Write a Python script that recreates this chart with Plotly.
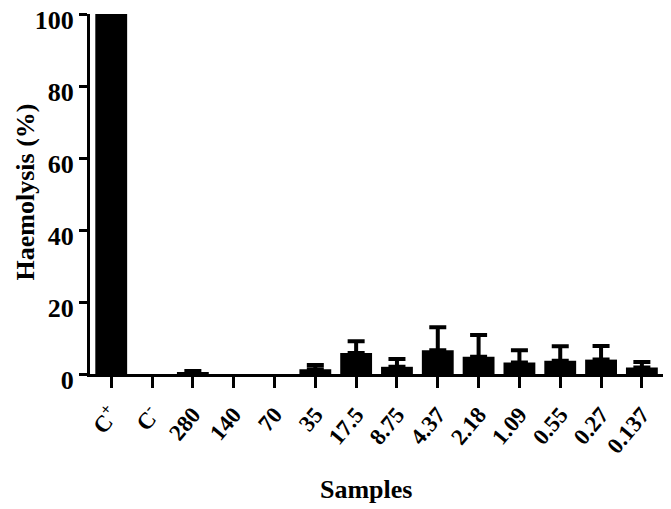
import plotly.graph_objects as go

categories = ["C<sup>+</sup>", "C<sup>-</sup>", "280", "140", "70", "35", "17.5", "8.75",
              "4.37", "2.18", "1.09", "0.55", "0.27", "0.137"]
haemolysis = [100, 0, 0.5, 0, 0, 1.3, 5.8, 2.0, 6.6, 4.8, 3.2, 3.7, 4.0, 1.8]
err_up = [0, 0, 0.3, 0, 0, 1.2, 3.3, 2.2, 6.4, 6.0, 3.4, 4.0, 3.8, 1.5]
y_ticks = [0, 20, 40, 60, 80, 100]

font_family = "Liberation Serif"
xs = list(range(len(categories)))

fig = go.Figure()
fig.add_trace(go.Bar(
    x=xs,
    y=haemolysis,
    width=0.78,
    marker=dict(color="black", line=dict(width=0)),
))
# error bars only where an SD was reported
idx = [i for i, e in enumerate(err_up) if e > 0]
fig.add_trace(go.Scatter(
    x=[xs[i] for i in idx],
    y=[haemolysis[i] for i in idx],
    mode="markers",
    marker=dict(size=1, opacity=0),
    error_y=dict(type="data", array=[err_up[i] for i in idx],
                 arrayminus=[0] * len(idx), symmetric=False,
                 color="black", thickness=4, width=8.5),
    hoverinfo="skip",
))

fig.update_layout(
    width=663, height=501,
    margin=dict(l=82, r=3, t=6, b=135),
    plot_bgcolor="white", paper_bgcolor="white",
    showlegend=False,
    font=dict(family=font_family, color="black"),
    xaxis=dict(
        tickmode="array", tickvals=xs, ticktext=categories,
        range=[-0.52, 13.64], tickangle=-50, automargin=False,
        ticklabeloverflow="allow", ticklabelstandoff=4,
        showline=True, linecolor="black", linewidth=3,
        ticks="outside", ticklen=11, tickwidth=3, tickcolor="black",
        showgrid=False, zeroline=False,
        tickfont=dict(size=23, family=font_family, color="black", weight="bold"),
    ),
    yaxis=dict(
        range=[0, 100], tickvals=y_ticks, automargin=False,
        ticklabeloverflow="allow", ticklabelshift=6,
        showline=True, linecolor="black", linewidth=3,
        ticks="outside", ticklen=8, tickwidth=3, tickcolor="black",
        showgrid=False, zeroline=False,
        tickfont=dict(size=26, family=font_family, color="black", weight="bold"),
    ),
    annotations=[
        dict(text="<b>Samples</b>", xref="paper", yref="paper", x=0.4775, y=-0.322,
             xanchor="center", yanchor="middle", showarrow=False,
             font=dict(size=26, family=font_family, color="black")),
        dict(text="<b>Haemolysis (%)</b>", xref="paper", yref="paper", x=-0.11, y=0.5056,
             xanchor="center", yanchor="middle", showarrow=False, textangle=-90,
             font=dict(size=26, family=font_family, color="black")),
    ],
)

fig.write_html("out.html")
